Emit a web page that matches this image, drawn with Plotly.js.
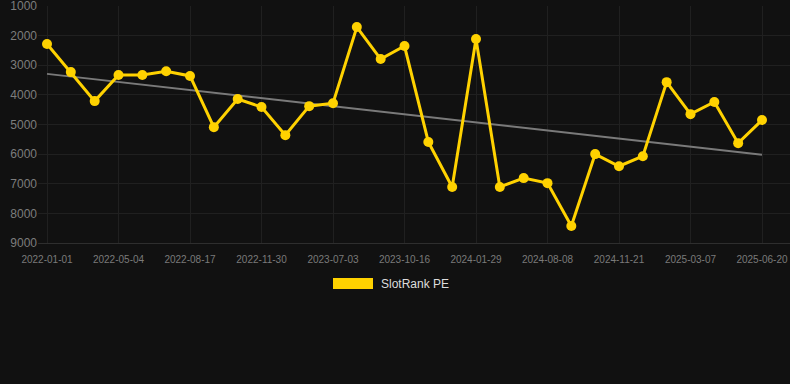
<!DOCTYPE html>
<html>
<head>
<meta charset="utf-8">
<script src="https://cdn.plot.ly/plotly-3.0.1.min.js"></script>
<style>
  html, body { margin: 0; padding: 0; background: #111111; }
  #chart { width: 790px; height: 384px; }
</style>
</head>
<body>
<div id="chart"></div>
<script>
// Dates (category axis, equally spaced points)
const dates = [
  "2022-01-01", "2022-02-11", "2022-03-24", "2022-05-04", "2022-06-08", "2022-07-13",
  "2022-08-17", "2022-09-21", "2022-10-26", "2022-11-30", "2023-02-09", "2023-04-22",
  "2023-07-03", "2023-08-07", "2023-09-11", "2023-10-16", "2023-11-20", "2023-12-25",
  "2024-01-29", "2024-04-02", "2024-06-05", "2024-08-08", "2024-09-12", "2024-10-17",
  "2024-11-21", "2024-12-26", "2025-01-30", "2025-03-07", "2025-04-11", "2025-05-16",
  "2025-06-20"
];
// SlotRank PE values (rank, lower is better)
const rankValues = [
  2280, 3230, 4210, 3330, 3330, 3200,
  3360, 5090, 4140, 4410, 5360, 4380,
  4280, 1710, 2790, 2350, 5590, 7110,
  2110, 7110, 6810, 6980, 8430, 6000,
  6410, 6070, 3570, 4650, 4240, 5630,
  4850
];
// Trend line endpoints
const trendDates = ["2022-01-01", "2025-06-20"];
const trendValues = [3290, 6020];
const seriesName = "SlotRank PE";
const yTicks = [1000, 2000, 3000, 4000, 5000, 6000, 7000, 8000, 9000];

const traces = [
  {
    x: trendDates, y: trendValues, type: "scatter", mode: "lines",
    line: { color: "#7a7a7a", width: 2 }, hoverinfo: "skip", showlegend: false
  },
  {
    x: dates, y: rankValues, type: "scatter", mode: "lines+markers", name: seriesName,
    line: { color: "#FFD200", width: 3 },
    marker: { color: "#FFD200", size: 10 },
    showlegend: false
  }
];

const layout = {
  width: 790, height: 384,
  paper_bgcolor: "#111111", plot_bgcolor: "#111111",
  margin: { l: 38, r: 0, t: 6, b: 141 },
  showlegend: false,
  font: { family: "Liberation Sans, Arial, sans-serif", color: "#888888" },
  xaxis: {
    type: "category",
    categoryorder: "array", categoryarray: dates,
    range: [-0.378, 31.175],
    tickmode: "linear", tick0: 0, dtick: 3,
    showgrid: true, gridcolor: "#202020", gridwidth: 1,
    showline: true, linecolor: "#2e2e2e", linewidth: 1,
    zeroline: false, ticks: "",
    ticklabelstandoff: 7,
    tickfont: { size: 10, color: "#7a7a7a" },
    tickangle: 0, automargin: false
  },
  yaxis: {
    range: [9002, 998],
    tickvals: yTicks,
    ticklabeloverflow: "allow",
    showgrid: true, gridcolor: "#202020", gridwidth: 1,
    zeroline: false, showline: false, ticks: "",
    tickfont: { size: 12, color: "#7d7d7d" },
    automargin: false
  },
  shapes: [
    { type: "rect", xref: "paper", yref: "paper",
      x0: (333 - 38) / 752, x1: (373 - 38) / 752,
      y0: (384 - 141 - 289) / 237, y1: (384 - 141 - 278) / 237,
      fillcolor: "#FFD200", line: { width: 0 } }
  ],
  annotations: [
    { text: seriesName, xref: "paper", yref: "paper",
      x: (379 - 38) / 752, y: (384 - 141 - 284) / 237,
      xanchor: "left", yanchor: "middle", showarrow: false,
      font: { size: 12, color: "#dddddd" } }
  ]
};

Plotly.newPlot("chart", traces, layout, { displayModeBar: false, staticPlot: true });
</script>
</body>
</html>
